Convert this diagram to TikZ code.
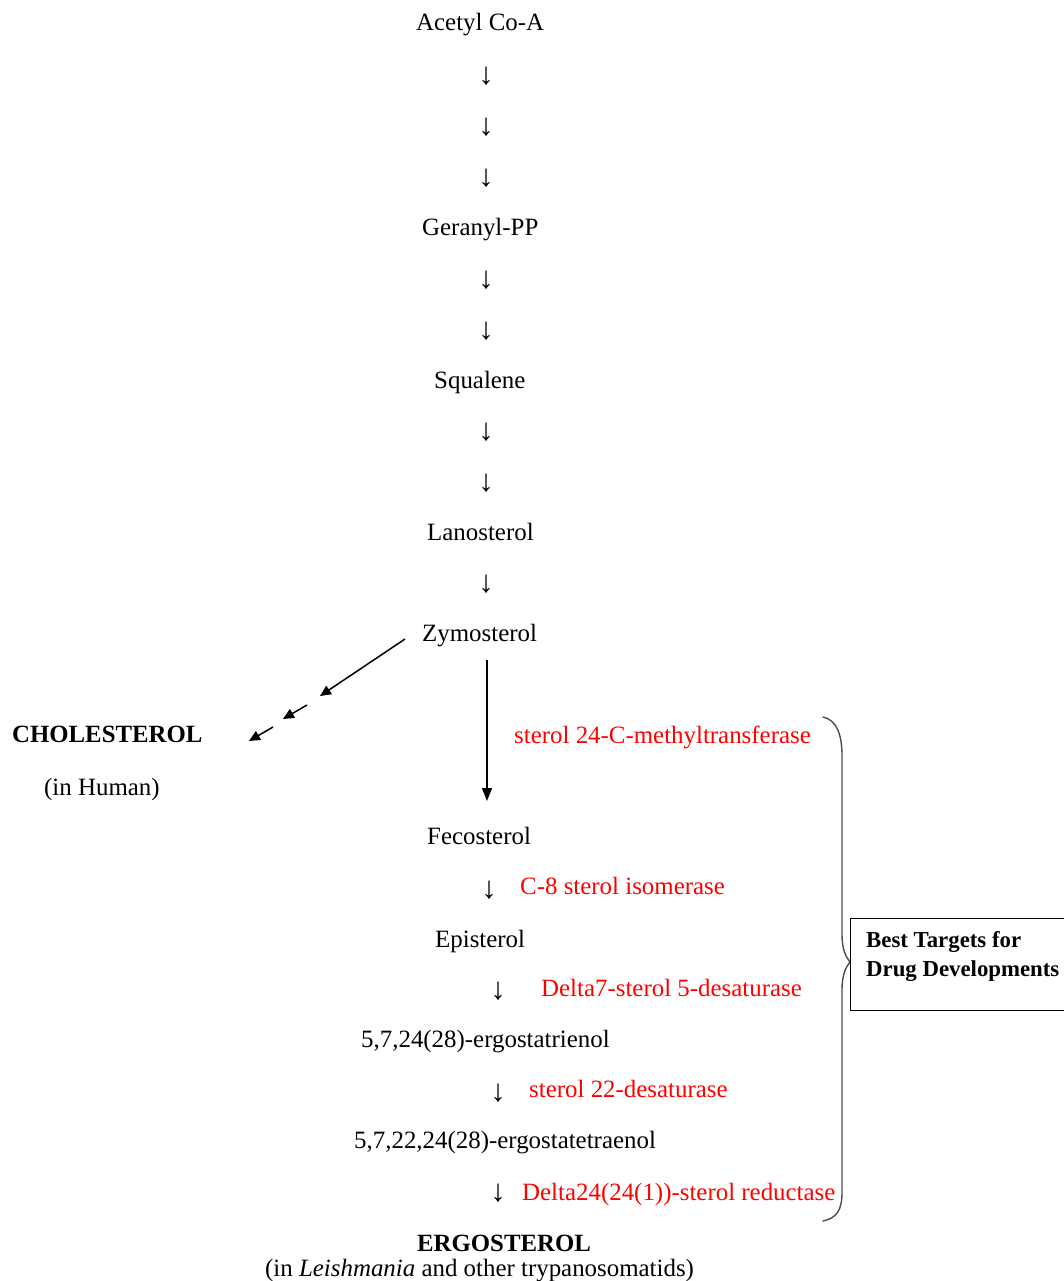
\documentclass[tikz,border=0pt]{standalone}
\usepackage{fontspec}
\setmainfont{Liberation Serif}
\usetikzlibrary{arrows.meta}
\definecolor{enzred}{RGB}{255,0,0}
\tikzset{
  txt/.style={inner sep=0pt, anchor=base west, font=\fontsize{24.9}{29}\selectfont},
  bold/.style={txt, font=\fontsize{24.8}{29}\selectfont\bfseries},
  enz/.style={txt, text=enzred},
  dn/.style={inner sep=0pt, anchor=center, font=\fontsize{31}{34}\selectfont},
  boxtxt/.style={inner sep=0pt, anchor=base west, font=\fontsize{22.8}{28}\selectfont\bfseries},
  bigarrow/.style={line width=1.5pt, -{Triangle[length=13pt,width=10pt]}},
  dasharrow/.style={line width=1.5pt, -{Triangle[length=11pt,width=10pt]}},
  bracepath/.style={line width=1.4pt, draw=black!70, line cap=round},
}
\begin{document}
\begin{tikzpicture}[x=1pt,y=-1pt]
\useasboundingbox (0,0) rectangle (1064,1281);
% main trunk
\node[txt] (acetyl) at (416,31) {Acetyl Co-A};
\node[dn] (a1) at (486,76) {↓};
\node[dn] (a2) at (486,127) {↓};
\node[dn] (a3) at (486,178) {↓};
\node[txt] (geranyl) at (422,236) {Geranyl-PP};
\node[dn] (a4) at (486,280) {↓};
\node[dn] (a5) at (486,331) {↓};
\node[txt] (squalene) at (434,388) {Squalene};
\node[dn] (a6) at (486,432) {↓};
\node[dn] (a7) at (486,483) {↓};
\node[txt] (lano) at (427,540) {Lanosterol};
\node[dn] (a8) at (486,584) {↓};
\node[txt] (zymo) at (422,641) {Zymosterol};
% cholesterol branch
\node[bold] (chol) at (12,742) {CHOLESTEROL};
\node[txt] (human) at (44,795) {(in Human)};
\coordinate (d0) at (405,639);
\coordinate (d1) at (320,696);
\coordinate (d2) at (307,705);
\coordinate (d3) at (283,719);
\coordinate (d4) at (273,727);
\coordinate (d5) at (249,741);
\draw[dasharrow] (d0) -- (d1);
\draw[dasharrow] (d2) -- (d3);
\draw[dasharrow] (d4) -- (d5);
% ergosterol branch
\coordinate (zs) at (487,660);
\coordinate (fe) at (487,801);
\draw[bigarrow] (zs) -- (fe);
\node[enz] (e1) at (514,743) {sterol 24-C-methyltransferase};
\node[txt] (feco) at (427,844) {Fecosterol};
\node[dn] (a9) at (489,890) {↓};
\node[enz] (e2) at (520,894) {C-8 sterol isomerase};
\node[txt] (epi) at (435,947) {Episterol};
\node[dn] (a10) at (498,991) {↓};
\node[enz] (e3) at (541,996) {Delta7-sterol 5-desaturase};
\node[txt] (trien) at (361,1047) {5,7,24(28)-ergostatrienol};
\node[dn] (a11) at (498,1093) {↓};
\node[enz] (e4) at (529,1097) {sterol 22-desaturase};
\node[txt] (tetra) at (354,1148) {5,7,22,24(28)-ergostatetraenol};
\node[dn] (a12) at (498,1193) {↓};
\node[enz] (e5) at (522,1200) {Delta24(24(1))-sterol reductase};
\node[bold] (ergo) at (417,1251) {ERGOSTEROL};
\node[txt] (leish) at (265,1276) {(in \textit{Leishmania} and other trypanosomatids)};
% brace
\draw[bracepath] (823,717) .. controls (837,720) and (842,735) .. (842,756)
  -- (842,934) .. controls (842,950) and (846,957) .. (850,962)
  .. controls (846,967) and (842,974) .. (842,990)
  -- (842,1192) .. controls (842,1210) and (837,1218) .. (823,1221);
% box
\node[draw, line width=1.2pt, inner sep=0pt, anchor=north west,
      minimum width=214pt, minimum height=92pt] (box) at (850,918) {};
\node[boxtxt] (bt1) at (866,947) {Best Targets for};
\node[boxtxt] (bt2) at (866,976) {Drug Developments};
\end{tikzpicture}
\end{document}
